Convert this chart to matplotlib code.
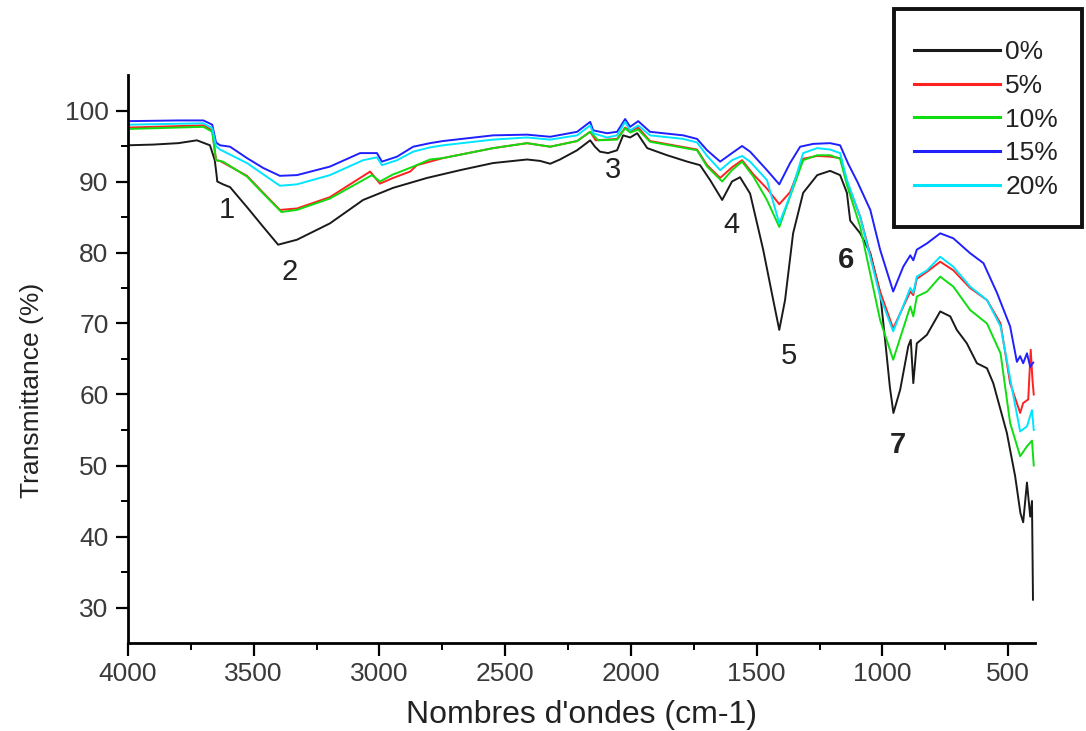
import matplotlib
matplotlib.use("Agg")
import matplotlib.pyplot as plt
from matplotlib.patches import Rectangle

plt.rcParams['font.family'] = ['Liberation Sans', 'DejaVu Sans']

# ---------------- data (wavenumber cm-1, transmittance %) ----------------
x0 = [4000, 3900, 3800, 3726, 3674, 3655, 3648, 3645, 3622, 3594, 3527, 3462, 3403, 3328,
      3197, 3065, 2946, 2811, 2679, 2548, 2413, 2361, 2321, 2282, 2214, 2162, 2143, 2123,
      2091, 2055, 2031, 2003, 1975, 1935, 1856, 1776, 1725, 1685, 1637, 1598, 1566, 1526,
      1474, 1434, 1410, 1387, 1355, 1315, 1259, 1208, 1168, 1141, 1128, 1088, 1048, 1009,
      990, 970, 956, 929, 897, 887, 877, 863, 823, 770, 730, 704, 664, 624, 584, 559, 505,
      472, 451, 440, 425, 412, 405, 401]
y0 = [95.1, 95.2, 95.4, 95.8, 95.1, 93.0, 91.0, 90.0, 89.6, 89.2, 86.4, 83.6, 81.1, 81.8,
      84.1, 87.4, 89.1, 90.5, 91.6, 92.6, 93.1, 92.9, 92.5, 93.1, 94.4, 95.8, 94.9, 94.2,
      94.0, 94.4, 96.5, 96.2, 96.8, 94.7, 93.7, 92.8, 92.3, 90.2, 87.4, 90.0, 90.6, 88.3,
      80.4, 73.3, 69.1, 73.3, 82.7, 88.4, 90.9, 91.5, 90.9, 88.4, 84.5, 82.7, 79.9, 74.3,
      68.0, 61.0, 57.4, 60.7, 66.8, 67.7, 61.6, 67.2, 68.4, 71.7, 71.0, 69.1, 67.2, 64.4,
      63.7, 61.6, 54.6, 48.5, 43.3, 42.0, 47.6, 42.8, 45.0, 31.1]

x5 = [4000, 3700, 3665, 3650, 3634, 3527, 3462, 3396, 3328, 3197, 3077, 3037, 2998, 2946,
      2878, 2851, 2747, 2548, 2413, 2321, 2214, 2162, 2140, 2055, 2023, 2003, 1971, 1924,
      1737, 1697, 1645, 1598, 1558, 1513, 1459, 1410, 1367, 1315, 1259, 1208, 1168, 1141,
      1088, 1009, 957, 889, 877, 863, 822, 770, 718, 651, 584, 530, 492, 452, 440, 420,
      410, 403, 398]
y5 = [97.6, 97.9, 97.2, 93.0, 92.9, 90.8, 88.4, 86.0, 86.2, 87.8, 90.5, 91.4, 89.7, 90.5,
      91.4, 92.3, 93.3, 94.7, 95.4, 94.9, 95.7, 97.0, 95.8, 96.0, 97.6, 97.1, 97.6, 95.7,
      94.5, 92.3, 90.5, 92.0, 93.0, 91.0, 89.0, 86.8, 88.5, 93.2, 93.6, 93.5, 93.3, 90.0,
      85.0, 74.5, 69.3, 74.5, 74.0, 76.3, 77.3, 78.7, 77.5, 75.0, 73.3, 70.0, 61.6, 57.4,
      58.8, 59.3, 66.3, 62.0, 60.0]

x10 = [4000, 3700, 3665, 3650, 3622, 3527, 3462, 3390, 3328, 3197, 3065, 3030, 2998, 2946,
       2930, 2866, 2799, 2747, 2548, 2413, 2321, 2214, 2162, 2130, 2055, 2023, 2003, 1971,
       1924, 1737, 1697, 1637, 1598, 1558, 1513, 1459, 1410, 1367, 1315, 1259, 1208, 1168,
       1141, 1088, 1009, 957, 889, 877, 863, 822, 770, 718, 651, 584, 530, 492, 452, 425,
       405, 398]
y10 = [97.4, 97.7, 97.0, 93.0, 92.8, 90.7, 88.3, 85.7, 86.0, 87.6, 90.2, 90.9, 90.0, 91.0,
       91.2, 92.1, 93.1, 93.3, 94.7, 95.4, 94.9, 95.7, 97.0, 95.8, 95.9, 97.5, 96.9, 97.3,
       95.6, 94.4, 92.1, 90.0, 91.6, 92.8, 90.7, 87.4, 83.6, 87.9, 93.0, 93.7, 93.7, 93.2,
       89.5, 83.6, 70.5, 64.9, 72.4, 71.0, 73.8, 74.5, 76.6, 75.2, 71.9, 70.0, 65.8, 56.0,
       51.3, 52.7, 53.5, 50.0]

x15 = [4000, 3800, 3700, 3665, 3650, 3634, 3594, 3527, 3462, 3396, 3328, 3197, 3077, 3010,
       2990, 2930, 2866, 2799, 2747, 2548, 2413, 2321, 2214, 2162, 2150, 2095, 2055, 2023,
       2003, 1971, 1924, 1792, 1737, 1697, 1645, 1598, 1558, 1526, 1459, 1410, 1367, 1327,
       1275, 1208, 1168, 1136, 1100, 1048, 1009, 957, 917, 889, 877, 863, 822, 770, 718,
       651, 598, 544, 492, 465, 452, 440, 425, 412, 400]
y15 = [98.5, 98.6, 98.6, 98.0, 95.5, 95.1, 94.9, 93.3, 91.9, 90.8, 90.9, 92.1, 94.0, 94.0,
       92.8, 93.5, 94.9, 95.4, 95.7, 96.5, 96.6, 96.3, 97.0, 98.4, 97.2, 96.8, 97.0, 98.8,
       97.7, 98.5, 97.0, 96.5, 96.0, 94.4, 92.8, 94.0, 95.0, 94.2, 91.6, 89.6, 92.6, 94.9,
       95.3, 95.4, 95.1, 92.5, 90.0, 86.0, 80.4, 74.5, 78.0, 79.6, 78.9, 80.4, 81.3, 82.7,
       82.0, 79.9, 78.5, 74.3, 69.6, 64.6, 65.4, 64.4, 65.8, 63.9, 64.5]

x20 = [4000, 3700, 3665, 3650, 3634, 3527, 3396, 3328, 3197, 3065, 3010, 2990, 2930, 2866,
       2799, 2747, 2548, 2413, 2321, 2214, 2162, 2150, 2095, 2055, 2023, 2003, 1971, 1924,
       1792, 1737, 1697, 1645, 1598, 1558, 1526, 1459, 1410, 1367, 1315, 1259, 1208, 1168,
       1141, 1088, 1009, 957, 889, 877, 863, 822, 770, 718, 651, 584, 530, 480, 452, 425,
       405, 398]
y20 = [98.0, 98.2, 97.5, 95.0, 94.5, 92.6, 89.4, 89.6, 90.9, 93.0, 93.4, 92.3, 93.0, 94.2,
       94.8, 95.1, 95.9, 96.2, 95.9, 96.5, 97.9, 96.8, 96.2, 96.5, 98.4, 97.2, 97.9, 96.5,
       96.0, 95.5, 93.6, 91.6, 93.0, 93.6, 92.8, 90.2, 84.1, 88.0, 94.0, 94.7, 94.5, 94.0,
       90.2, 85.0, 73.8, 68.9, 75.0, 74.3, 76.6, 77.5, 79.4, 78.0, 75.2, 73.3, 69.6, 60.0,
       54.8, 55.5, 57.8, 55.0]

series_labels = ['0%', '5%', '10%', '15%', '20%']
series_colors = ['#1a1a1a', '#ff2020', '#10dd10', '#2020ff', '#00e5ff']

peak_labels = ['1', '2', '3', '4', '5', '6', '7']
peak_x = [3606, 3356, 2071, 1601, 1371, 1144, 937]
peak_y = [86.0, 77.3, 91.6, 83.9, 65.4, 78.9, 52.9]
peak_bold = [False, False, False, False, False, True, True]

x_ticks = [4000, 3500, 3000, 2500, 2000, 1500, 1000, 500]
y_ticks = [30, 40, 50, 60, 70, 80, 90, 100]

# ---------------- figure ----------------
W, H = 1086, 731
fig = plt.figure(figsize=(W / 100, H / 100), dpi=100)
ax = fig.add_axes([128 / W, 1 - 643 / H, (1035 - 128) / W, (643 - 75) / H])

data = [(x0, y0), (x5, y5), (x10, y10), (x15, y15), (x20, y20)]
handles = []
for (xs, ys), lab, col in zip(data, series_labels, series_colors):
    h, = ax.plot(xs, ys, color=col, lw=1.4, label=lab)
    handles.append(h)

ax.set_xlim(4000, 393)
ax.set_ylim(25, 105)
ax.set_xticks(x_ticks)
ax.set_yticks(y_ticks)
ax.set_xticks([3750, 3250, 2750, 2250, 1750, 1250, 750], minor=True)
ax.set_yticks([35, 45, 55, 65, 75, 85, 95], minor=True)
ax.tick_params(which='major', direction='out', length=9, width=1.6, labelsize=19,
               labelcolor='#3a3a3a', pad=5)
ax.tick_params(which='minor', direction='out', length=5, width=1.4)
for s in ['top', 'right']:
    ax.spines[s].set_visible(False)
for s in ['left', 'bottom']:
    ax.spines[s].set_linewidth(2.0)

ax.set_xlabel("Nombres d'ondes (cm-1)", fontsize=23, color='#222222', labelpad=10)
ax.set_ylabel("Transmittance (%)", fontsize=19, color='#222222')
ax.yaxis.set_label_coords(-0.093, 0.445)

for t, px, py, b in zip(peak_labels, peak_x, peak_y, peak_bold):
    ax.text(px, py, t, fontsize=21, ha='center', va='center', color='#222222',
            fontweight='bold' if b else 'normal')

# legend box
fig.patches.append(Rectangle((894 / W, 1 - 227 / H), (1082 - 894) / W, (227 - 9) / H,
                             transform=fig.transFigure, fill=True, facecolor='white',
                             edgecolor='#111111', lw=2.8, zorder=5))
leg = fig.legend(handles=handles, labels=series_labels, loc='upper left',
                 bbox_to_anchor=(914 / W, 1 - 40 / H), frameon=False, fontsize=19,
                 handlelength=3.26, handletextpad=0.2, labelspacing=0.37,
                 borderpad=0, borderaxespad=0)
leg.set_zorder(6)
for lh in leg.get_lines():
    lh.set_linewidth(2.2)
for txt in leg.get_texts():
    txt.set_color('#222222')

fig.savefig('out.png', dpi=100)
